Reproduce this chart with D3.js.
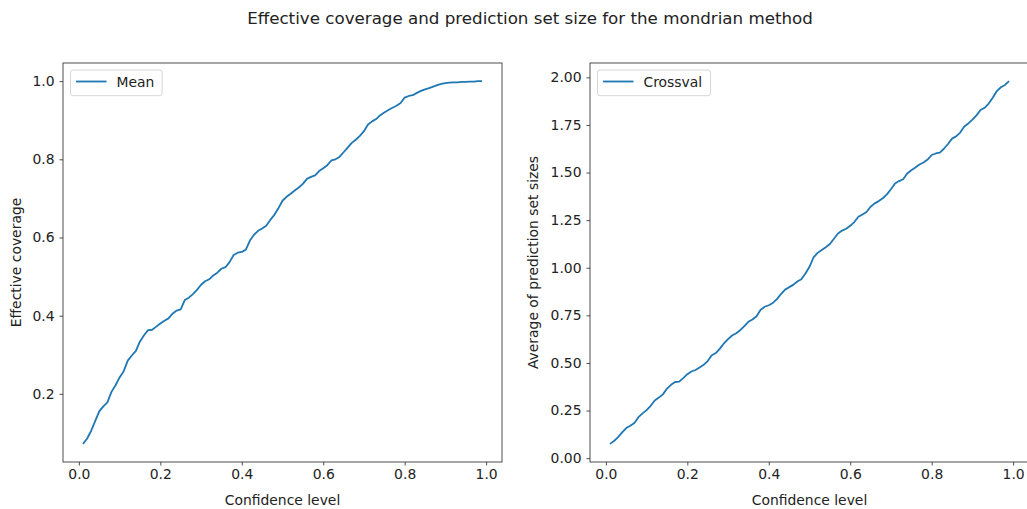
<!DOCTYPE html>
<html>
<head>
<meta charset="utf-8">
<script src="https://cdn.jsdelivr.net/npm/d3@7"></script>
<style>
  html, body { margin: 0; padding: 0; background: #fff; }
  svg text { font-family: "DejaVu Sans", sans-serif; fill: #222; }
  .axis path, .axis line { stroke: #222; stroke-width: 0.8; }
</style>
</head>
<body>
<div id="chart"></div>
<script>
// confidence levels (x) shared by both panels
const confLevels = [
  0.01,0.02,0.03,0.04,0.05,0.06,0.07,0.08,0.09,0.10,
  0.11,0.12,0.13,0.14,0.15,0.16,0.17,0.18,0.19,0.20,
  0.21,0.22,0.23,0.24,0.25,0.26,0.27,0.28,0.29,0.30,
  0.31,0.32,0.33,0.34,0.35,0.36,0.37,0.38,0.39,0.40,
  0.41,0.42,0.43,0.44,0.45,0.46,0.47,0.48,0.49,0.50,
  0.51,0.52,0.53,0.54,0.55,0.56,0.57,0.58,0.59,0.60,
  0.61,0.62,0.63,0.64,0.65,0.66,0.67,0.68,0.69,0.70,
  0.71,0.72,0.73,0.74,0.75,0.76,0.77,0.78,0.79,0.80,
  0.81,0.82,0.83,0.84,0.85,0.86,0.87,0.88,0.89,0.90,
  0.91,0.92,0.93,0.94,0.95,0.96,0.97,0.98,0.99
];

// left panel : effective coverage (Mean)
const meanCoverage = [
  0.072,0.085,0.105,0.130,0.155,0.168,0.178,0.205,0.222,0.242,
  0.258,0.285,0.298,0.310,0.334,0.350,0.363,0.364,0.372,0.380,
  0.387,0.393,0.405,0.413,0.416,0.440,0.446,0.455,0.466,0.479,
  0.488,0.493,0.503,0.510,0.520,0.524,0.537,0.555,0.561,0.563,
  0.569,0.592,0.607,0.617,0.623,0.630,0.645,0.658,0.675,0.694,
  0.704,0.712,0.720,0.728,0.737,0.750,0.755,0.759,0.770,0.777,
  0.785,0.797,0.800,0.806,0.818,0.830,0.842,0.850,0.860,0.872,
  0.889,0.897,0.903,0.913,0.920,0.926,0.932,0.937,0.944,0.958,
  0.962,0.964,0.970,0.975,0.979,0.982,0.986,0.990,0.993,0.995,
  0.996,0.997,0.997,0.998,0.998,0.999,0.999,1.000,1.000
];

// right panel : average prediction set size (Crossval)
const crossvalSize = [
  0.075,0.090,0.110,0.135,0.158,0.170,0.185,0.215,0.235,0.252,
  0.275,0.303,0.318,0.335,0.365,0.385,0.400,0.402,0.420,0.441,
  0.455,0.463,0.476,0.490,0.510,0.540,0.552,0.575,0.603,0.625,
  0.644,0.656,0.672,0.693,0.716,0.728,0.745,0.779,0.795,0.803,
  0.815,0.835,0.862,0.885,0.898,0.910,0.928,0.940,0.970,1.005,
  1.055,1.078,1.093,1.108,1.125,1.152,1.180,1.195,1.205,1.220,
  1.240,1.268,1.280,1.293,1.320,1.338,1.350,1.365,1.385,1.412,
  1.442,1.455,1.465,1.495,1.512,1.527,1.542,1.553,1.568,1.592,
  1.600,1.605,1.625,1.650,1.678,1.690,1.710,1.742,1.758,1.778,
  1.800,1.828,1.840,1.862,1.893,1.928,1.948,1.960,1.980
];

const xTicks = [0.0, 0.2, 0.4, 0.6, 0.8, 1.0];
const yTicksLeft = [0.2, 0.4, 0.6, 0.8, 1.0];
const yTicksRight = [0.00, 0.25, 0.50, 0.75, 1.00, 1.25, 1.50, 1.75, 2.00];

const titleText = "Effective coverage and prediction set size for the mondrian method";

var w = 1027;
var h = 509;
const lineColor = "#1f77b4";
const fontSize = 13.9;

var svg = d3.select("#chart")
  .append("svg")
  .attr("width", w)
  .attr("height", h);

svg.append("text")
  .attr("x", 530)
  .attr("y", 24)
  .attr("text-anchor", "middle")
  .attr("font-size", 16.7)
  .text(titleText);

// matplotlib-like margins (5% of data range)
function padded(lo, hi) {
  const m = (hi - lo) * 0.05;
  return [lo - m, hi + m];
}

function drawPanel(opt) {
  const left = opt.left, right = opt.right, top = 63, bottom = 462;

  const xScale = d3.scaleLinear()
    .domain(padded(d3.min(confLevels), d3.max(confLevels)))
    .range([left, right]);
  const yScale = d3.scaleLinear()
    .domain(padded(d3.min(opt.values), d3.max(opt.values)))
    .range([bottom, top]);

  const xAxis = d3.axisBottom(xScale)
    .tickValues(xTicks)
    .tickSize(3.5)
    .tickPadding(4)
    .tickFormat(d3.format(".1f"));
  const yAxis = d3.axisLeft(yScale)
    .tickValues(opt.yTicks)
    .tickSize(3.5)
    .tickPadding(5)
    .tickFormat(d3.format(opt.yFormat));

  const gx = svg.append("g")
    .attr("class", "axis")
    .attr("transform", "translate(0," + bottom + ")")
    .call(xAxis);
  const gy = svg.append("g")
    .attr("class", "axis")
    .attr("transform", "translate(" + left + ",0)")
    .call(yAxis);
  gx.select(".domain").remove();
  gy.select(".domain").remove();
  gx.selectAll("text").attr("font-size", fontSize).attr("font-family", "DejaVu Sans").attr("fill", "#222");
  gy.selectAll("text").attr("font-size", fontSize).attr("font-family", "DejaVu Sans").attr("fill", "#222");

  //線
  const pts = confLevels.map((c, i) => [c, opt.values[i]]);
  svg.append("path")
    .datum(pts)
    .attr("fill", "none")
    .attr("stroke", lineColor)
    .attr("stroke-width", 1.8)
    .attr("stroke-linejoin", "round")
    .attr("d", d3.line()
      .x(d => xScale(d[0]))
      .y(d => yScale(d[1]))
    );

  // frame
  svg.append("rect")
    .attr("x", left)
    .attr("y", top)
    .attr("width", right - left)
    .attr("height", bottom - top)
    .attr("fill", "none")
    .attr("stroke", "#222")
    .attr("stroke-width", 0.8);

  // axis labels
  svg.append("text")
    .attr("x", (left + right) / 2)
    .attr("y", 505)
    .attr("text-anchor", "middle")
    .attr("font-size", fontSize)
    .text("Confidence level");
  svg.append("text")
    .attr("transform", "translate(" + opt.ylabelX + "," + ((top + bottom) / 2) + ") rotate(-90)")
    .attr("text-anchor", "middle")
    .attr("font-size", fontSize)
    .text(opt.ylabel);

  // legend
  const lg = svg.append("g");
  lg.append("rect")
    .attr("x", left + 7.5)
    .attr("y", 70)
    .attr("width", opt.legendW)
    .attr("height", 25.7)
    .attr("rx", 2.5)
    .attr("fill", "rgba(255,255,255,0.8)")
    .attr("stroke", "#cccccc")
    .attr("stroke-width", 0.8);
  lg.append("line")
    .attr("x1", left + 13)
    .attr("x2", left + 43.5)
    .attr("y1", 81.5)
    .attr("y2", 81.5)
    .attr("stroke", lineColor)
    .attr("stroke-width", 1.8);
  lg.append("text")
    .attr("x", left + 53.5)
    .attr("y", 87)
    .attr("font-size", fontSize)
    .text(opt.name);
}

drawPanel({
  left: 63, right: 502,
  values: meanCoverage,
  yTicks: yTicksLeft, yFormat: ".1f",
  ylabel: "Effective coverage", ylabelX: 21,
  name: "Mean", legendW: 91.6
});

drawPanel({
  left: 590, right: 1029,
  values: crossvalSize,
  yTicks: yTicksRight, yFormat: ".2f",
  ylabel: "Average of prediction set sizes", ylabelX: 538,
  name: "Crossval", legendW: 113
});
</script>
</body>
</html>
